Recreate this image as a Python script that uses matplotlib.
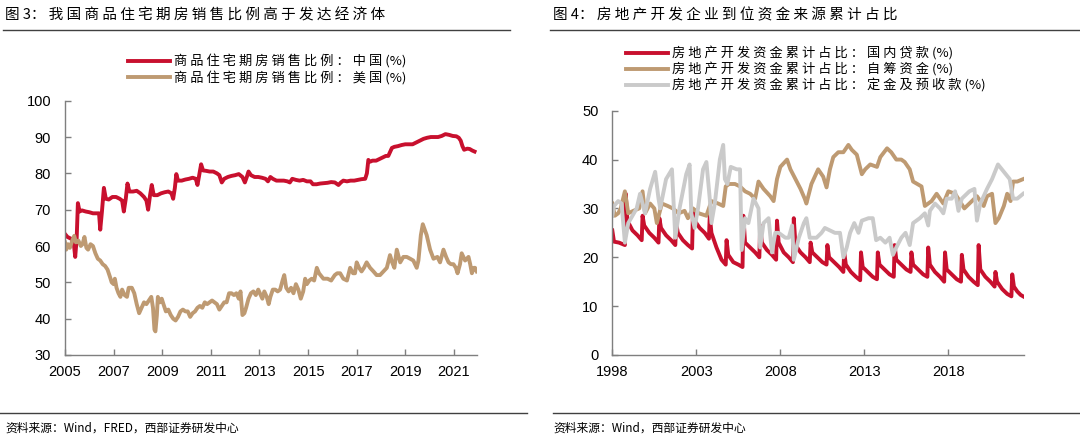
import numpy as np
import matplotlib.pyplot as plt
from matplotlib.lines import Line2D

plt.rcParams['font.family'] = ['Noto Sans CJK SC', 'DejaVu Sans']

# ---- 图3 data (decimal year, %) ----
cn_t = [2005.0, 2005.1, 2005.25, 2005.35, 2005.42, 2005.48, 2005.53, 2005.6, 2005.7, 2005.85,
        2006.0, 2006.15, 2006.3, 2006.4, 2006.45, 2006.52, 2006.6, 2006.68, 2006.8, 2006.95,
        2007.1, 2007.25, 2007.35, 2007.42, 2007.5, 2007.57, 2007.65, 2007.8, 2007.95,
        2008.1, 2008.25, 2008.35, 2008.42, 2008.5, 2008.57, 2008.65, 2008.8, 2008.95,
        2009.1, 2009.25, 2009.38, 2009.45, 2009.52, 2009.58, 2009.65, 2009.8, 2009.95,
        2010.1, 2010.25, 2010.38, 2010.45, 2010.52, 2010.6, 2010.68, 2010.8, 2010.95,
        2011.1, 2011.25, 2011.35, 2011.45, 2011.55, 2011.7, 2011.85,
        2012.0, 2012.15, 2012.3, 2012.4, 2012.48, 2012.55, 2012.65, 2012.8, 2012.95,
        2013.1, 2013.25, 2013.35, 2013.45, 2013.55, 2013.7, 2013.85,
        2014.0, 2014.15, 2014.25, 2014.35, 2014.5, 2014.65, 2014.8, 2014.95,
        2015.1, 2015.2, 2015.35, 2015.5, 2015.65, 2015.8, 2015.95,
        2016.1, 2016.25, 2016.35, 2016.45, 2016.6, 2016.75, 2016.9,
        2017.05, 2017.2, 2017.35, 2017.42, 2017.48, 2017.55, 2017.65, 2017.8, 2017.95,
        2018.1, 2018.2, 2018.3, 2018.45, 2018.55, 2018.7, 2018.85,
        2019.0, 2019.15, 2019.3, 2019.45, 2019.6, 2019.75, 2019.9,
        2020.05, 2020.2, 2020.35, 2020.5, 2020.65, 2020.8, 2020.95,
        2021.1, 2021.2, 2021.28, 2021.35, 2021.42, 2021.55, 2021.65, 2021.75, 2021.85]
cn_v = [63.3, 62.5, 62.0, 61.5, 57.0, 62.0, 71.8, 69.5, 69.8, 69.5,
        69.3, 69.0, 69.0, 69.0, 64.5, 69.5, 76.0, 73.0, 72.8, 73.5,
        73.5, 73.0, 72.5, 69.5, 73.0, 77.2, 75.0, 75.0, 75.2,
        74.5, 73.5, 72.5, 70.0, 74.0, 76.8, 74.0, 74.0, 74.5,
        74.8, 75.0, 74.5, 73.0, 76.0, 79.8, 78.0, 78.0, 78.3,
        78.5, 78.8, 78.5, 76.8, 79.5, 82.5, 80.8, 80.7, 80.5,
        80.5, 80.0, 79.5, 77.5, 78.5, 79.0, 79.3,
        79.5, 79.8, 79.0, 77.5, 79.0, 80.5, 79.5, 79.0, 79.0,
        78.8, 78.5, 77.8, 79.0, 78.5, 78.0, 78.0,
        78.0, 77.8, 77.5, 78.5, 78.2, 78.0, 78.2, 77.8,
        77.8, 77.0, 77.0, 77.2, 77.3, 77.4, 77.6,
        77.5, 76.8, 77.5, 78.0, 77.8, 78.0, 78.0,
        78.2, 78.4, 78.5, 80.0, 83.7, 83.2, 83.5, 83.5, 84.0,
        84.5, 84.8, 84.8, 87.0, 87.3, 87.5, 87.8,
        88.0, 88.0, 88.0, 88.5, 89.0, 89.5, 89.8,
        90.0, 90.0, 90.0, 90.3, 90.8, 90.6, 90.3,
        90.2, 89.8, 89.0, 87.5, 86.5, 86.8, 86.7, 86.3, 86.0]

us_t = [2005.0, 2005.05, 2005.12, 2005.2, 2005.3, 2005.38, 2005.45, 2005.55, 2005.65, 2005.72,
        2005.8, 2005.88, 2005.95, 2006.05, 2006.15, 2006.25, 2006.35, 2006.45, 2006.55, 2006.65,
        2006.75, 2006.85, 2006.92, 2007.0, 2007.05, 2007.12, 2007.2, 2007.28, 2007.35, 2007.45,
        2007.55, 2007.62, 2007.75, 2007.85, 2007.95, 2008.05, 2008.15, 2008.25, 2008.35, 2008.45,
        2008.55, 2008.62, 2008.68, 2008.72, 2008.78, 2008.82, 2008.9, 2008.98, 2009.05, 2009.15,
        2009.25, 2009.35, 2009.45, 2009.55, 2009.65, 2009.75, 2009.85, 2009.95, 2010.05, 2010.15,
        2010.25, 2010.35, 2010.45, 2010.55, 2010.65, 2010.75, 2010.85, 2010.95, 2011.05, 2011.15,
        2011.25, 2011.35, 2011.45, 2011.55, 2011.65, 2011.75, 2011.85, 2011.95, 2012.05, 2012.15,
        2012.22, 2012.3, 2012.38, 2012.45, 2012.55, 2012.65, 2012.75, 2012.85, 2012.95, 2013.05,
        2013.12, 2013.2, 2013.3, 2013.38, 2013.45, 2013.55, 2013.65, 2013.75, 2013.85, 2013.95,
        2014.02, 2014.1, 2014.2, 2014.3, 2014.4, 2014.5, 2014.6, 2014.7, 2014.8, 2014.88,
        2014.95, 2015.05, 2015.15, 2015.25, 2015.36, 2015.45, 2015.63, 2015.8, 2015.95, 2016.1,
        2016.2, 2016.32, 2016.45, 2016.6, 2016.73, 2016.85, 2016.93, 2017.0, 2017.1, 2017.2,
        2017.3, 2017.41, 2017.55, 2017.69, 2017.82, 2017.96, 2018.1, 2018.24, 2018.37, 2018.46,
        2018.55, 2018.65, 2018.79, 2018.92, 2019.06, 2019.2, 2019.33, 2019.47, 2019.54, 2019.64,
        2019.72, 2019.8, 2019.88, 2020.02, 2020.16, 2020.32, 2020.43, 2020.57, 2020.68, 2020.78,
        2020.88, 2020.98, 2021.08, 2021.15, 2021.25, 2021.32, 2021.46, 2021.6, 2021.67, 2021.74,
        2021.82, 2021.87, 2021.94]
us_v = [61.0, 59.0, 60.5, 59.5, 61.5, 62.8, 61.0, 61.5, 60.0, 60.5,
        62.5, 59.5, 59.0, 60.5, 60.0, 58.0, 56.5, 56.0, 55.0, 54.5,
        53.5, 51.5, 50.0, 49.5, 51.0, 48.5, 47.0, 46.0, 48.0, 46.5,
        46.0, 48.5, 48.5, 47.0, 44.0, 41.5, 43.0, 44.5, 44.0, 45.0,
        46.0, 43.0, 37.0, 36.5, 41.0, 46.0, 44.5, 45.5, 44.0, 42.0,
        42.5, 41.0, 40.0, 39.5, 40.5, 42.0, 42.5, 42.0, 42.0, 40.5,
        41.5, 42.0, 43.0, 43.5, 43.0, 44.5, 44.0, 44.5, 45.0, 44.5,
        44.0, 42.5, 43.5, 44.5, 44.5, 47.0, 47.0, 46.5, 47.0, 45.5,
        47.5, 41.0, 41.5, 43.0, 45.5, 47.0, 47.5, 46.5, 48.0, 46.5,
        45.5, 47.5, 46.0, 44.0, 46.0, 48.0, 48.0, 47.5, 48.0, 50.5,
        52.0, 48.5, 47.5, 48.5, 47.0, 49.5, 48.0, 45.5, 47.5, 51.0,
        49.5, 50.5, 51.0, 50.5, 54.0, 52.5, 51.0, 51.0, 50.5, 52.0,
        52.5, 52.5, 51.0, 50.5, 54.0, 52.5, 52.5, 55.5, 54.0, 53.0,
        54.0, 55.5, 54.0, 53.0, 52.0, 52.0, 53.0, 54.0, 57.5, 55.5,
        54.0, 59.0, 55.5, 57.0, 57.0, 56.5, 56.0, 54.0, 56.0, 63.0,
        66.0, 64.5, 63.0, 59.0, 56.5, 57.0, 55.5, 59.0, 57.0, 55.5,
        55.0, 55.0, 54.0, 52.5, 55.0, 58.0, 56.0, 57.0, 55.0, 52.5,
        54.0, 54.0, 53.0]

# ---- 图4 data (decimal year, %) ----
loan_t = [1998.0, 1998.1, 1998.4, 1998.75,
          1998.8, 1998.9, 1999.2, 1999.5, 1999.75,
          1999.8, 1999.9, 2000.2, 2000.5, 2000.75,
          2000.8, 2000.9, 2001.2, 2001.5, 2001.75,
          2001.8, 2001.9, 2002.2, 2002.5, 2002.75,
          2002.8, 2002.9, 2003.2, 2003.5, 2003.75,
          2003.8, 2003.9, 2004.2, 2004.5, 2004.75,
          2004.8, 2004.9, 2005.2, 2005.5, 2005.75,
          2005.8, 2005.9, 2006.2, 2006.5, 2006.75,
          2006.8, 2006.9, 2007.2, 2007.5, 2007.75,
          2007.8, 2007.9, 2008.2, 2008.5, 2008.75,
          2008.8, 2008.9, 2009.2, 2009.5, 2009.75,
          2009.8, 2009.9, 2010.2, 2010.5, 2010.75,
          2010.8, 2010.9, 2011.2, 2011.5, 2011.75,
          2011.8, 2011.9, 2012.2, 2012.5, 2012.75,
          2012.8, 2012.9, 2013.2, 2013.5, 2013.75,
          2013.8, 2013.9, 2014.2, 2014.5, 2014.75,
          2014.8, 2014.9, 2015.2, 2015.5, 2015.75,
          2015.8, 2015.9, 2016.2, 2016.5, 2016.75,
          2016.8, 2016.9, 2017.2, 2017.5, 2017.75,
          2017.8, 2017.9, 2018.2, 2018.5, 2018.75,
          2018.8, 2018.9, 2019.2, 2019.5, 2019.75,
          2019.8, 2019.9, 2020.2, 2020.5, 2020.75,
          2020.8, 2020.9, 2021.2, 2021.5, 2021.75,
          2021.8, 2021.9, 2022.1, 2022.3, 2022.45]
loan_v = [25.5, 23.2, 23.0, 22.5,
          33.0, 27.5, 25.5, 24.5, 23.5,
          28.5, 26.5, 25.0, 24.0, 23.0,
          28.0, 26.0, 24.5, 23.5, 22.5,
          27.0, 25.0, 23.5, 22.5, 21.8,
          29.5, 27.5, 26.0, 25.0, 23.8,
          28.5, 25.0, 22.0, 19.5, 18.5,
          23.5, 20.5, 19.0, 18.5, 18.0,
          28.5, 23.0, 22.0, 21.0, 20.0,
          26.5, 23.0, 21.5, 20.5, 19.5,
          27.5, 23.0, 21.0, 20.0, 19.0,
          28.0, 22.5, 21.0, 20.0, 19.0,
          23.0, 21.0, 20.0, 19.0, 18.5,
          22.5, 20.0, 19.0, 18.0, 17.0,
          21.0, 18.5, 17.0, 16.0, 15.3,
          21.0, 18.0, 17.0, 16.0, 15.5,
          21.0, 18.5, 17.5, 16.5, 16.0,
          22.5, 19.5, 18.5, 17.5, 17.0,
          21.0, 18.5, 17.5, 16.5, 16.0,
          22.0, 18.5, 17.0, 16.0, 15.0,
          21.0, 17.5, 16.5, 15.5, 15.0,
          20.5, 17.5, 16.0, 15.0, 14.3,
          22.5, 17.5, 16.0, 15.0, 14.0,
          17.0, 15.0, 13.5, 12.5, 12.0,
          16.5, 14.0, 13.0, 12.3, 12.0]

self_t = [1998.0, 1998.15, 1998.35, 1998.5, 1998.75, 1998.95, 1999.25, 1999.6, 1999.8, 1999.95,
          2000.25, 2000.5, 2000.65, 2000.95, 2001.3, 2001.6, 2001.95, 2002.3, 2002.5, 2002.8,
          2003.15, 2003.6, 2003.9, 2004.3, 2004.6, 2004.75, 2004.95, 2005.3, 2005.6, 2005.9,
          2006.2, 2006.5, 2006.7, 2007.0, 2007.4, 2007.6, 2007.8, 2008.0, 2008.4, 2008.6,
          2008.9, 2009.2, 2009.45, 2009.55, 2009.85, 2010.25, 2010.55, 2010.75, 2010.95, 2011.15,
          2011.45, 2011.75, 2012.05, 2012.25, 2012.55, 2012.85, 2013.05, 2013.35, 2013.75, 2013.95,
          2014.35, 2014.6, 2014.9, 2015.2, 2015.4, 2015.7, 2015.9, 2016.4, 2016.6, 2017.0,
          2017.3, 2017.7, 2018.0, 2018.4, 2018.95, 2019.25, 2019.7, 2020.1, 2020.3, 2020.6,
          2020.8, 2021.0, 2021.3, 2021.5, 2021.7, 2021.85, 2022.1, 2022.45]
self_v = [31.0, 28.5, 29.0, 30.0, 33.5, 29.0, 29.5, 30.0, 33.5, 29.0,
          31.0, 30.0, 27.0, 31.0, 30.5, 30.0, 29.0, 29.5, 28.0, 30.0,
          29.0, 28.5, 31.5, 31.0, 30.5, 34.5, 35.0, 35.0, 34.5, 33.5,
          33.0, 32.0, 35.5, 34.0, 32.5, 31.5, 36.0, 38.5, 40.0, 38.0,
          36.0, 34.0, 32.0, 31.0, 35.0, 38.0, 36.5, 34.3, 38.0, 40.5,
          41.5, 41.5, 43.0, 42.0, 41.0, 37.0, 38.0, 39.0, 38.5, 40.5,
          42.3, 41.5, 40.0, 40.0, 39.5, 38.0, 35.5, 34.5, 30.5, 31.5,
          33.0, 31.0, 33.5, 33.0, 30.0, 31.0, 32.5, 30.5, 32.5, 33.0,
          27.0, 28.0, 30.5, 33.0, 31.5, 35.5, 35.5, 36.0]

deposit_t = [1998.0, 1998.1, 1998.35, 1998.55, 1998.75, 1998.95, 1999.45, 1999.65, 1999.95, 2000.25,
             2000.55, 2000.75, 2000.85, 2001.2, 2001.55, 2001.75, 2002.0, 2002.4, 2002.6, 2002.7,
             2002.9, 2003.1, 2003.4, 2003.6, 2003.8, 2003.9, 2004.1, 2004.4, 2004.6, 2004.7,
             2004.85, 2005.05, 2005.4, 2005.6, 2005.7, 2005.9, 2006.1, 2006.4, 2006.7, 2006.8,
             2007.0, 2007.3, 2007.5, 2007.7, 2007.9, 2008.3, 2008.5, 2008.7, 2008.8, 2009.1,
             2009.4, 2009.55, 2009.75, 2010.15, 2010.45, 2010.65, 2010.95, 2011.25, 2011.55, 2011.75,
             2011.95, 2012.15, 2012.4, 2012.65, 2012.85, 2013.25, 2013.5, 2013.7, 2013.95, 2014.25,
             2014.5, 2014.7, 2014.9, 2015.2, 2015.45, 2015.7, 2015.9, 2016.3, 2016.6, 2016.8,
             2016.9, 2017.2, 2017.5, 2017.7, 2017.9, 2018.2, 2018.4, 2018.6, 2018.8, 2019.25,
             2019.55, 2019.7, 2019.9, 2020.3, 2020.6, 2020.95, 2021.3, 2021.65, 2021.85, 2022.1,
             2022.45]
deposit_v = [28.5, 30.5, 31.5, 31.0, 23.0, 27.0, 30.0, 33.0, 29.0, 34.0,
             37.5, 32.0, 30.0, 36.0, 38.0, 24.0, 30.0, 37.0, 39.0, 29.0,
             26.0, 30.0, 38.0, 39.5, 32.0, 27.0, 31.0, 40.0, 43.0, 36.0,
             35.0, 38.5, 38.0, 38.0, 21.5, 28.0, 27.0, 32.0, 30.0, 22.0,
             27.0, 28.0, 21.0, 25.0, 25.0, 24.0, 24.0, 26.5, 19.5, 24.0,
             27.0, 28.0, 24.0, 24.0, 25.0, 26.0, 25.5, 25.0, 25.0, 20.0,
             22.0, 25.0, 27.0, 25.0, 27.5, 28.0, 28.0, 23.5, 24.0, 23.0,
             24.0, 20.5, 22.0, 24.0, 25.0, 22.5, 27.0, 28.0, 29.0, 26.5,
             29.5, 31.0, 30.0, 29.0, 32.0, 32.0, 33.5, 29.5, 32.0, 33.5,
             34.0, 27.5, 31.0, 34.0, 36.0, 39.0, 37.5, 36.0, 32.0, 32.0,
             33.0]

left_labels = ['商品住宅期房销售比例：中国 (%)', '商品住宅期房销售比例：美国 (%)']
right_labels = ['房地产开发资金累计占比：国内贷款 (%)', '房地产开发资金累计占比：自筹资金 (%)',
                '房地产开发资金累计占比：定金及预收款 (%)']
left_years = [2005, 2007, 2009, 2011, 2013, 2015, 2017, 2019, 2021]
right_years = [1998, 2003, 2008, 2013, 2018]

RED = '#C8102E'
TAN = '#BE9A72'
GRAY = '#CACACA'
AXC = '#7F7F7F'


def spaced(text):
    # the report typesets CJK text with wide letter spacing
    out = ''
    for ch in text:
        out += ch
        if ord(ch) > 0x2e80:
            out += ' '
    return out.replace('  ', ' ').strip()


def style_axes(ax):
    for s in ['top', 'right']:
        ax.spines[s].set_visible(False)
    for s in ['left', 'bottom']:
        ax.spines[s].set_color(AXC)
        ax.spines[s].set_linewidth(1.0)
    ax.tick_params(direction='in', length=4, width=1, color=AXC, labelsize=10.5,
                   labelcolor='black')
    ax.tick_params(axis='y', pad=10)
    ax.tick_params(axis='x', pad=7)
    for lab in ax.get_xticklabels() + ax.get_yticklabels():
        lab.set_fontfamily('Liberation Sans')


W, H = 1080, 440
fig = plt.figure(figsize=(W / 100, H / 100), dpi=100)

ax1 = fig.add_axes([65 / W, 1 - 355 / H, (477 - 65) / W, (355 - 100.7) / H])
ax1.plot(cn_t, cn_v, color=RED, lw=2.8, label=spaced(left_labels[0]))
ax1.plot(us_t, us_v, color=TAN, lw=2.8, label=spaced(left_labels[1]))
ax1.set_xlim(2005, 2021.95)
ax1.set_ylim(30, 100)
ax1.set_yticks(np.arange(30, 101, 10))
ax1.set_xticks(left_years)
ax1.set_xticklabels([str(y) for y in left_years])
style_axes(ax1)
ax1.legend(loc='upper left', bbox_to_anchor=(128 / W, 1 - 55 / H), bbox_transform=fig.transFigure,
           frameon=False, fontsize=9.5, handlelength=3.2, handletextpad=0.25,
           labelspacing=0.15, borderpad=0, borderaxespad=0)

ax2 = fig.add_axes([612.3 / W, 1 - 355 / H, (1024 - 612.3) / W, (355 - 110.7) / H])
ax2.plot(loan_t, loan_v, color=RED, lw=2.8, label=spaced(right_labels[0]))
ax2.plot(self_t, self_v, color=TAN, lw=2.8, label=spaced(right_labels[1]))
ax2.plot(deposit_t, deposit_v, color=GRAY, lw=2.8, label=spaced(right_labels[2]))
ax2.set_xlim(1998, 2022.5)
ax2.set_ylim(0, 50)
ax2.set_yticks(np.arange(0, 51, 10))
ax2.set_xticks(right_years)
ax2.set_xticklabels([str(y) for y in right_years])
style_axes(ax2)
ax2.legend(loc='upper left', bbox_to_anchor=(626 / W, 1 - 47 / H), bbox_transform=fig.transFigure,
           frameon=False, fontsize=9.5, handlelength=3.2, handletextpad=0.25,
           labelspacing=0.14, borderpad=0, borderaxespad=0)

# titles and rules
fig.text(5 / W, 1 - 15 / H, spaced('图 3：我国商品住宅期房销售比例高于发达经济体'),
         fontsize=10.5, va='center', ha='left')
fig.text(553 / W, 1 - 15 / H, spaced('图 4：房地产开发企业到位资金来源累计占比'),
         fontsize=10.5, va='center', ha='left')
fig.add_artist(Line2D([3 / W, 510 / W], [1 - 30 / H] * 2, color='#404040', lw=1.0))
fig.add_artist(Line2D([550 / W, 1 / 1], [1 - 30 / H] * 2, color='#404040', lw=1.0))
fig.add_artist(Line2D([0, 527 / W], [1 - 413 / H] * 2, color='#404040', lw=1.0))
fig.add_artist(Line2D([553 / W, 1], [1 - 413 / H] * 2, color='#404040', lw=1.0))
fig.text(5 / W, 1 - 428 / H, '资料来源：Wind，FRED，西部证券研发中心', fontsize=8.5, va='center', ha='left')
fig.text(553 / W, 1 - 428 / H, '资料来源：Wind，西部证券研发中心', fontsize=8.5, va='center', ha='left')

fig.savefig('out.png', dpi=100)
